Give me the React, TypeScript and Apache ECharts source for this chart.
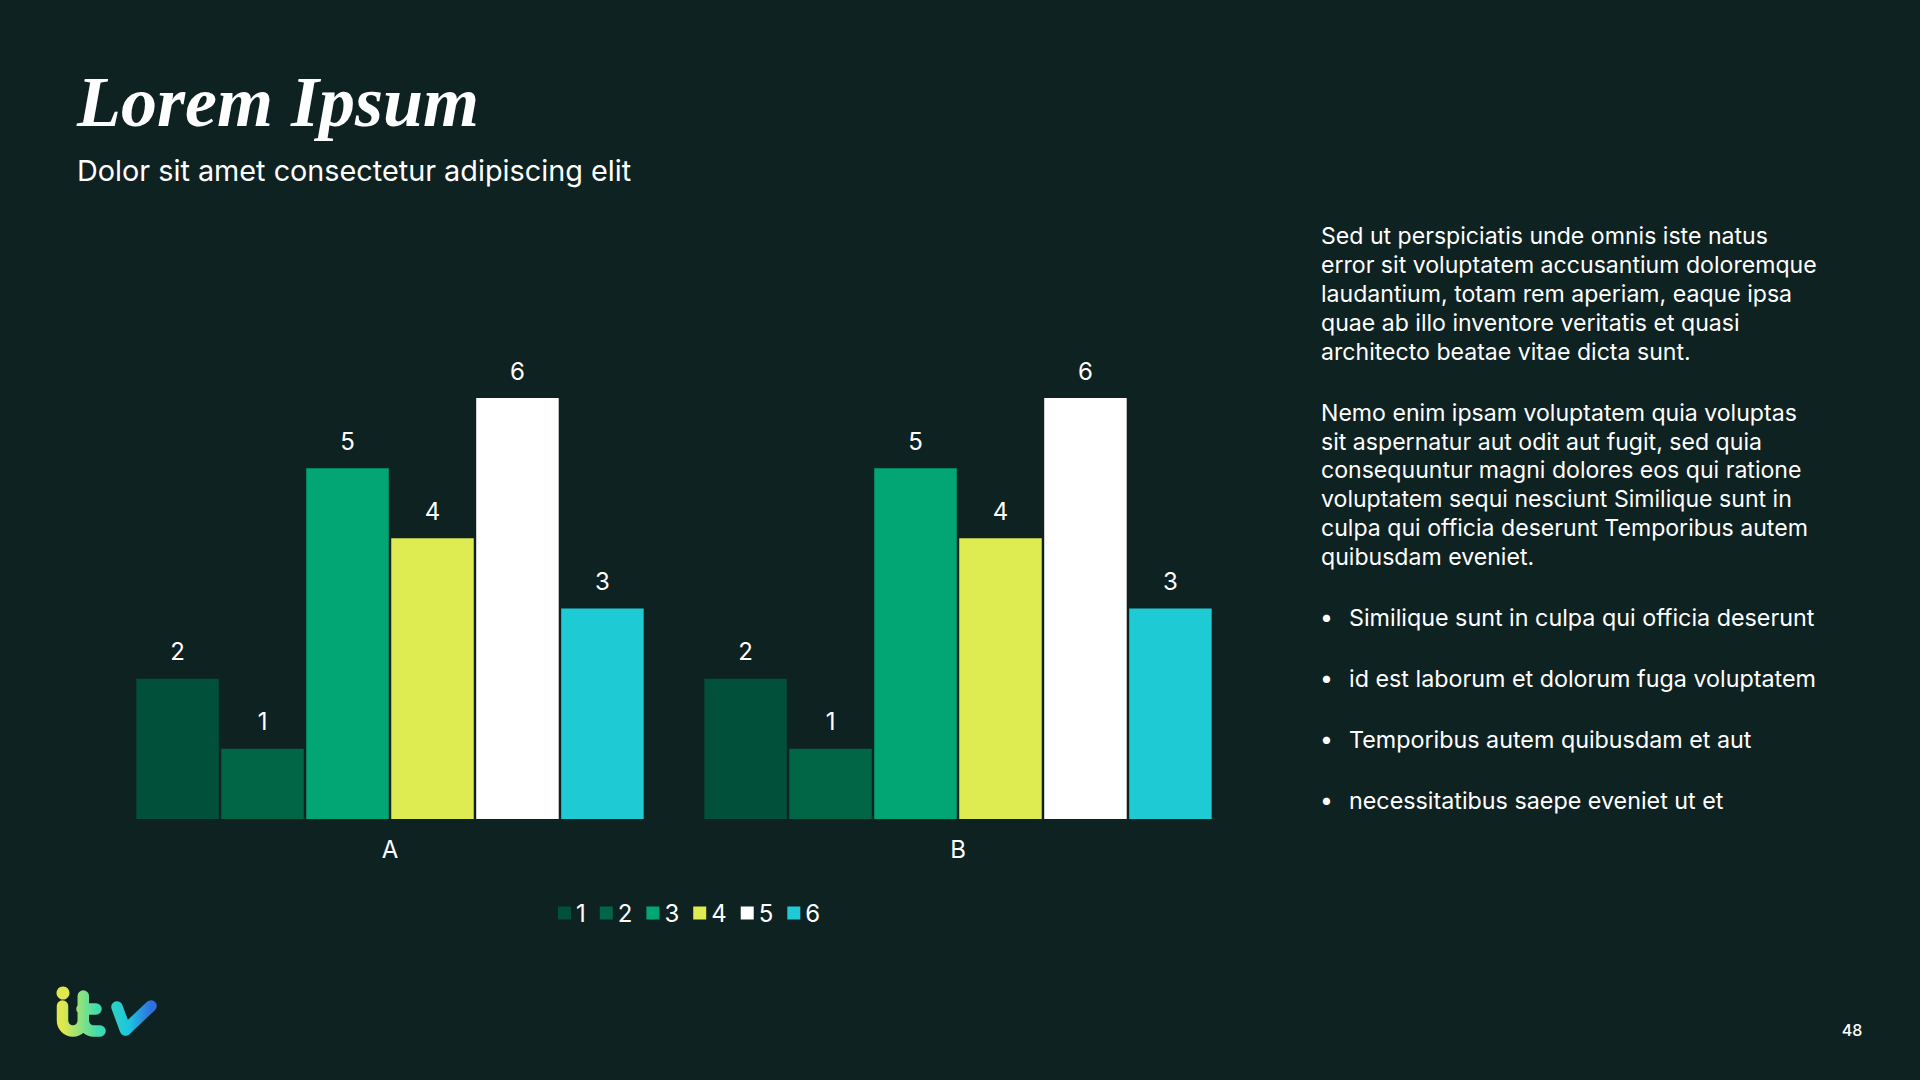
import React, { useEffect, useRef } from "react";
import * as echarts from "echarts";

const categories = ["A", "B"];
const seriesNames = ["1", "2", "3", "4", "5", "6"];
const seriesValues = [
  [2, 2],
  [1, 1],
  [5, 5],
  [4, 4],
  [6, 6],
  [3, 3],
];
const seriesColors = ["#00503a", "#006646", "#01a674", "#deec52", "#ffffff", "#1ecbd5"];

const titleText = "Lorem Ipsum";
const subtitleText = "Dolor sit amet consectetur adipiscing elit";
const para1 = [
  "Sed ut perspiciatis unde omnis iste natus",
  "error sit voluptatem accusantium doloremque",
  "laudantium, totam rem aperiam, eaque ipsa",
  "quae ab illo inventore veritatis et quasi",
  "architecto beatae vitae dicta sunt.",
];
const para2 = [
  "Nemo enim ipsam voluptatem quia voluptas",
  "sit aspernatur aut odit aut fugit, sed quia",
  "consequuntur magni dolores eos qui ratione",
  "voluptatem sequi nesciunt Similique sunt in",
  "culpa qui officia deserunt Temporibus autem",
  "quibusdam eveniet.",
];
const bullets = [
  "Similique sunt in culpa qui officia deserunt",
  "id est laborum et dolorum fuga voluptatem",
  "Temporibus autem quibusdam et aut",
  "necessitatibus saepe eveniet ut et",
];
const pageNumber = "48";

const BG = "#0f2222";
const FONT = "Inter";

const logoPath =
  "M6.5 20 L6.5 34.6 A10.4 10.4 0 0 0 27.3 34.6 L27.3 10 " +
  "M27.3 34.6 A10.4 10.4 0 0 0 37.7 45 L44 45 " +
  "M26 23 L40 23 " +
  "M61 21 L69.5 44 L95 20";
echarts.graphic.registerShape("itvlogo", echarts.graphic.extendPath(logoPath, {}));

export default function App() {
  const ref = useRef<HTMLDivElement>(null);

  useEffect(() => {
    if (!ref.current) return;
    const chart = echarts.init(ref.current, null, { renderer: "svg" });

    const textEl = (text: string, x: number, y: number, size: number, extra: any = {}) => ({
      type: "text",
      x,
      y,
      style: {
        text,
        fill: "#ffffff",
        font: `${size}px ${FONT}`,
        verticalAlign: "middle",
        align: "left",
        ...extra,
      },
    });

    const graphics: any[] = [];
    graphics.push({
      type: "text",
      x: 77,
      y: 102,
      style: {
        text: titleText,
        fill: "#ffffff",
        font: `italic bold 72px "Liberation Serif"`,
        verticalAlign: "middle",
      },
    });
    graphics.push(textEl(subtitleText, 77, 170, 28.8));
    para1.forEach((l, i) => graphics.push(textEl(l, 1321, 236 + i * 28.9, 23.1)));
    para2.forEach((l, i) => graphics.push(textEl(l, 1321, 412.6 + i * 28.9, 23.1)));
    bullets.forEach((l, i) => {
      graphics.push(textEl("•", 1320, 617 + i * 61, 23));
      graphics.push(textEl(l, 1349, 617 + i * 61, 23.3));
    });
    graphics.push(textEl(pageNumber, 1852, 1030, 16, { align: "center", font: `500 16px ${FONT}` }));
    graphics.push({
      type: "itvlogo",
      x: 56,
      y: 986,
      style: {
        fill: null,
        stroke: new echarts.graphic.LinearGradient(0, 0, 1, 0, [
          { offset: 0, color: "#dfe84e" },
          { offset: 0.4, color: "#3fdcae" },
          { offset: 0.75, color: "#1cc6dd" },
          { offset: 1, color: "#2f6fe0" },
        ]),
        lineWidth: 11.5,
        lineCap: "round",
        lineJoin: "round",
      },
    });
    graphics.push({
      type: "circle",
      shape: { cx: 63, cy: 993, r: 6.5 },
      style: { fill: "#dfe84e" },
    });

    chart.setOption({
      animation: false,
      backgroundColor: BG,
      textStyle: { fontFamily: FONT },
      grid: { left: 106, right: 678, top: 398, bottom: 261 },
      legend: {
        data: seriesNames,
        left: 558,
        top: 901,
        padding: 0,
        itemWidth: 13,
        itemHeight: 13,
        itemGap: 14,
        icon: "rect",
        textStyle: { color: "#ffffff", fontSize: 24, fontFamily: FONT },
      },
      xAxis: {
        type: "category",
        data: categories,
        axisLine: { show: false },
        axisTick: { show: false },
        axisLabel: { color: "#ffffff", fontSize: 24, margin: 18, fontFamily: FONT },
      },
      yAxis: {
        type: "value",
        min: 0,
        max: 6,
        show: false,
        splitLine: { show: false },
      },
      series: seriesNames.map((name, i) => ({
        name,
        type: "bar",
        data: seriesValues[i],
        barWidth: 82.5,
        barGap: "3%",
        itemStyle: { color: seriesColors[i] },
        label: {
          show: true,
          position: "top",
          distance: 15,
          color: "#ffffff",
          fontSize: 24,
          fontFamily: FONT,
        },
      })),
      graphic: graphics,
    });

    return () => chart.dispose();
  }, []);

  return (
    <div style={{ position: "fixed", left: 0, top: 0, width: 1920, height: 1080, background: BG }}>
      <div ref={ref} style={{ width: 1920, height: 1080 }} />
    </div>
  );
}
